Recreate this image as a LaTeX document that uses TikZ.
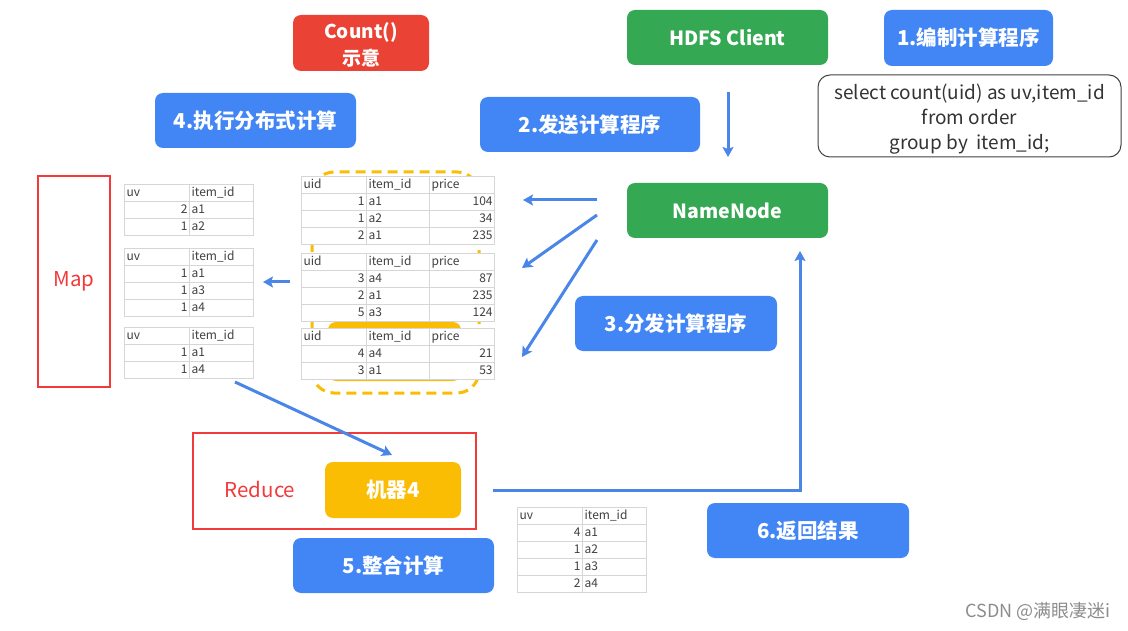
\documentclass[tikz,border=0pt]{standalone}
\usepackage{fontspec}
\setmainfont{Noto Sans CJK SC}
\usetikzlibrary{matrix,arrows.meta}
\definecolor{gblue}{HTML}{4285F4}
\definecolor{ggreen}{HTML}{34A853}
\definecolor{gred}{HTML}{EA4335}
\definecolor{gyellow}{HTML}{FBBC04}
\definecolor{arrowblue}{HTML}{4A86E8}
\definecolor{boxred}{HTML}{F23A3A}
\definecolor{gridgray}{HTML}{D6D6D6}
\definecolor{tabtext}{HTML}{404040}
\begin{document}
\begin{tikzpicture}[x=1pt,y=-1pt,
  lbl/.style={rounded corners=8pt, text=white, font=\bfseries\fontsize{20.5}{24}\selectfont, inner sep=0pt, align=center},
  bluebox/.style={lbl, fill=gblue},
  greenbox/.style={lbl, fill=ggreen, font=\bfseries\fontsize{19.5}{22}\selectfont},
  redframe/.style={draw=boxred, line width=2pt, inner sep=0pt},
  redtext/.style={text=boxred, font=\fontsize{20.5}{22}\selectfont},
  arr/.style={draw=arrowblue, line width=3pt, -{Stealth[length=10pt,width=11pt,inset=2pt]}},
  tabcell/.style={draw=gridgray, fill=white, line width=0.8pt, inner xsep=2pt, inner ysep=0pt,
     minimum height=17pt, text height=8.5pt, text depth=2.5pt, font=\fontsize{12}{12}\selectfont, text=tabtext},
  tab/.style={matrix of nodes, nodes={tabcell}, column sep=-0.8pt, row sep=-0.8pt, anchor=north west, inner sep=0pt},
  twocol/.style={tab, column 1/.style={nodes={text width=61pt, align=right}},
     column 2/.style={nodes={text width=60pt, align=left}}, row 1/.style={nodes={align=left}}},
  threecol/.style={tab, column 1/.style={nodes={text width=61pt, align=right}},
     column 2/.style={nodes={text width=59pt, align=left}},
     column 3/.style={nodes={text width=61pt, align=right}}, row 1/.style={nodes={align=left}}}
]
\useasboundingbox (0,0) rectangle (1128,631);

% top labels
\node[lbl, fill=gred, minimum width=136pt, minimum height=56pt] (count) at (361,43) {};
\node[text=white, font=\bfseries\fontsize{19}{27}\selectfont, align=center, inner sep=0pt] (counttxt) at (361,45) {Count()\\示意};
\node[greenbox, minimum width=201pt, minimum height=55pt] (hdfs) at (727.5,37.5) {HDFS Client};
\node[bluebox, minimum width=169pt, minimum height=56pt] (s1) at (968.5,38) {1.编制计算程序};
\node[draw=black!75, line width=1pt, rounded corners=12pt, minimum width=303pt, minimum height=82pt, inner sep=0pt] (sql) at (969.5,116) {};
\node[align=center, font=\fontsize{19}{25}\selectfont, text=black!80, inner sep=0pt] (sqltxt) at (969.5,119)
      {select count(uid) as uv,item\_id\\from order\\group by\ \ item\_id;};
\node[bluebox, minimum width=201pt, minimum height=55pt] (s4) at (255.5,120.5) {4.执行分布式计算};
\node[bluebox, minimum width=220pt, minimum height=55pt] (s2) at (590,124.5) {2.发送计算程序};
\node[greenbox, minimum width=201pt, minimum height=55pt] (nn) at (727.5,210.5) {NameNode};
\node[bluebox, minimum width=202pt, minimum height=55pt] (s3) at (676,323.5) {3.分发计算程序};
\node[bluebox, minimum width=202pt, minimum height=55pt] (s6) at (808,530.5) {6.返回结果};
\node[bluebox, minimum width=201pt, minimum height=55pt] (s5) at (393.5,565.5) {5.整合计算};

% group behind middle tables
\draw[gyellow, line width=3pt, dash pattern=on 10pt off 6pt, rounded corners=22pt] (312,172) rectangle (479,393);
\fill[gyellow, rounded corners=8pt] (328,322) rectangle (461,381);

% left tables
\matrix[twocol] (t1) at (124,184) {uv & item\_id\\ 2 & a1\\ 1 & a2\\};
\matrix[twocol] (t2) at (124,248) {uv & item\_id\\ 1 & a1\\ 1 & a3\\ 1 & a4\\};
\matrix[twocol] (t3) at (124,327) {uv & item\_id\\ 1 & a1\\ 1 & a4\\};
% middle tables
\matrix[threecol] (m1) at (301,176) {uid & item\_id & price\\ 1 & a1 & 104\\ 1 & a2 & 34\\ 2 & a1 & 235\\};
\matrix[threecol] (m2) at (301,253) {uid & item\_id & price\\ 3 & a4 & 87\\ 2 & a1 & 235\\ 5 & a3 & 124\\};
\matrix[threecol] (m3) at (301,328) {uid & item\_id & price\\ 4 & a4 & 21\\ 3 & a1 & 53\\};
% result table
\matrix[twocol] (res) at (517,507) {uv & item\_id\\ 4 & a1\\ 1 & a2\\ 1 & a3\\ 2 & a4\\};

% map / reduce frames
\node[redframe, minimum width=72pt, minimum height=211pt] (mapbox) at (74,281.5) {};
\node[redtext] (maplbl) at (74,281) {Map};
\node[redframe, minimum width=283pt, minimum height=96pt] (redbox) at (334.5,481) {};
\node[redtext] (redlbl) at (260,489) {Reduce};
\node[lbl, fill=gyellow, minimum width=136pt, minimum height=56pt] (m4) at (393,490) {机器4};

% arrows
\coordinate (h1) at (728,92); \coordinate (h2) at (728,157);
\draw[arr] (h1) -- (h2);
\coordinate (a1s) at (597,200); \coordinate (a1e) at (523,200);
\coordinate (a2s) at (597,215); \coordinate (a2e) at (522,268);
\coordinate (a3s) at (597,240); \coordinate (a3e) at (522,357);
\draw[arr] (a1s) -- (a1e);
\draw[arr] (a2s) -- (a2e);
\draw[arr] (a3s) -- (a3e);
\coordinate (b1s) at (290,282); \coordinate (b1e) at (263,282);
\draw[arr] (b1s) -- (b1e);
\coordinate (c1s) at (235,382); \coordinate (c1e) at (392,455);
\draw[arr] (c1s) -- (c1e);
\coordinate (r1) at (493,490); \coordinate (r2) at (800,251);
\draw[arr] (r1) -| (r2);

\node[text=black!45, font=\fontsize{18}{18}\selectfont, anchor=east] (wm) at (1114,611) {CSDN @满眼凄迷i};
\end{tikzpicture}
\end{document}
